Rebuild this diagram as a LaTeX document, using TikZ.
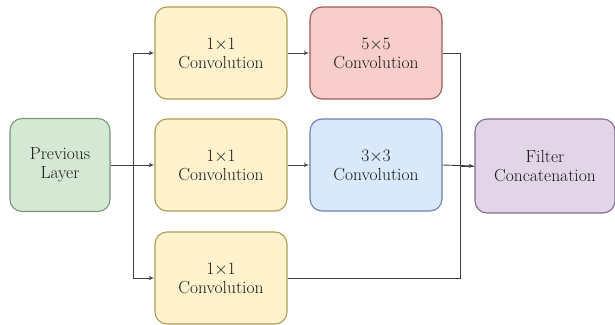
\documentclass[tikz,border=0pt]{standalone}
\usetikzlibrary{arrows}
\definecolor{ylwfill}{HTML}{FFF2CC}\definecolor{ylwline}{HTML}{B09A55}
\definecolor{redfill}{HTML}{F8CECC}\definecolor{redline}{HTML}{9E5A57}
\definecolor{bluefill}{HTML}{DAE8FC}\definecolor{blueline}{HTML}{6A80A8}
\definecolor{grnfill}{HTML}{D5E8D4}\definecolor{grnline}{HTML}{78957A}
\definecolor{purfill}{HTML}{E1D5E7}\definecolor{purline}{HTML}{7F6E8C}
\tikzset{
    block/.style={rectangle,rounded corners=12pt,draw,line width=1.1pt,minimum width=132pt,minimum height=92pt,align=center,text=black!90,font=\fontsize{17.5}{19}\selectfont},
    conv/.style={block,fill=ylwfill,draw=ylwline},
    bigconv/.style={block,fill=redfill,draw=redline},
    midconv/.style={block,fill=bluefill,draw=blueline},
    input/.style={block,fill=grnfill,draw=grnline,minimum width=100pt,minimum height=93pt},
    output/.style={block,fill=purfill,draw=purline,minimum width=140pt,minimum height=94pt},
    flow/.style={->,> = latex', draw=black!75, line width=0.9pt},
    line/.style={-, draw=black!75, line width=0.9pt},
}
\begin{document}
\begin{tikzpicture}[x=1pt,y=-1pt]
    \useasboundingbox (0,0) rectangle (615,324);
    \node[input] (prev) at (60,165) {Previous\\Layer};
    \node[conv] (conv1a) at (221,53) {1$\times$1\\Convolution};
    \node[bigconv] (conv5) at (376,53) {5$\times$5\\Convolution};
    \node[conv] (conv1b) at (221,165) {1$\times$1\\Convolution};
    \node[midconv] (conv3) at (376,165) {3$\times$3\\Convolution};
    \node[conv] (conv1c) at (221,278) {1$\times$1\\Convolution};
    \node[output] (concat) at (545,166) {Filter\\Concatenation};
    \draw[flow] (prev.east) -- (conv1b.west);
    \draw[flow] (prev.east) -- ++(23,0) |- (conv1a.west);
    \draw[flow] (prev.east) -- ++(23,0) |- (conv1c.west);
    \draw[flow] (conv1a) -- (conv5);
    \draw[flow] (conv1b) -- (conv3);
    \draw[flow] (conv3.east) -- (concat.west);
    \draw[line] (conv5.east) -- ++(18,0) |- (concat.west);
    \draw[line] (conv1c.east) -- ++(173,0) |- (concat.west);
\end{tikzpicture}
\end{document}
